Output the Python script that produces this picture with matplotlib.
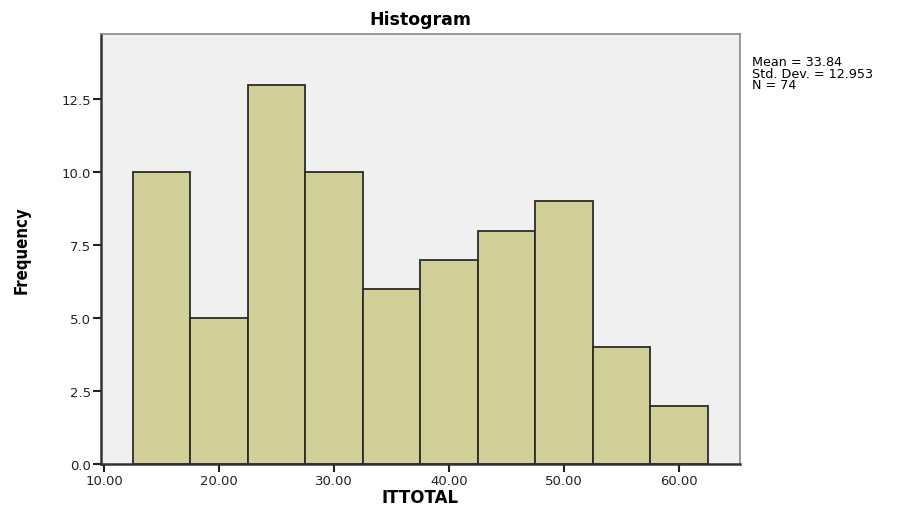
import matplotlib.pyplot as plt
import numpy as np

# histogram bins (ITTOTAL) and frequencies
binEdges = [12.5, 17.5, 22.5, 27.5, 32.5, 37.5, 42.5, 47.5, 52.5, 57.5, 62.5]
frequencies = [10, 5, 13, 10, 6, 7, 8, 9, 4, 2]
xTicks = [10, 20, 30, 40, 50, 60]
yTicks = [0.0, 2.5, 5.0, 7.5, 10.0, 12.5]
statsText = 'Mean = 33.84\nStd. Dev. = 12.953\nN = 74'


def main():
    fig = plt.figure(figsize=(9.12, 5.10), dpi=100)
    ax = fig.add_axes([0.1107, 0.0882, 0.7007, 0.843])
    ax.set_facecolor('#f0f0f0')

    centers = (np.array(binEdges[:-1]) + np.array(binEdges[1:])) / 2
    ax.hist(centers, bins=binEdges, weights=frequencies,
            color='#d3cf99', edgecolor='#2b2b2b', linewidth=1.3)

    ax.set_xlim(9.74, 65.3)
    ax.set_ylim(0, 14.73)
    ax.set_xticks(xTicks)
    ax.set_xticklabels(['%.2f' % t for t in xTicks])
    ax.set_yticks(yTicks)
    ax.set_yticklabels(['%.1f' % t for t in yTicks])
    ax.tick_params(direction='out', length=6, width=1.5, labelsize=9.5,
                   colors='#222222', pad=1)

    for side in ['left', 'bottom']:
        ax.spines[side].set_color('#333333')
        ax.spines[side].set_linewidth(1.8)
    for side in ['top', 'right']:
        ax.spines[side].set_color('#888888')
        ax.spines[side].set_linewidth(1.2)

    ax.set_title('Histogram', fontsize=12.5, fontweight='bold', pad=7)
    ax.set_xlabel('ITTOTAL', fontsize=12, fontweight='bold', labelpad=1)
    ax.set_ylabel('Frequency', fontsize=12, fontweight='bold', labelpad=22,
                  fontstretch='condensed')

    fig.text(752 / 912, 1 - 56 / 510, statsText, fontsize=9.2,
             va='top', ha='left', linespacing=0.85)

    fig.savefig('out.png', dpi=100)


if __name__ == '__main__':
    main()
